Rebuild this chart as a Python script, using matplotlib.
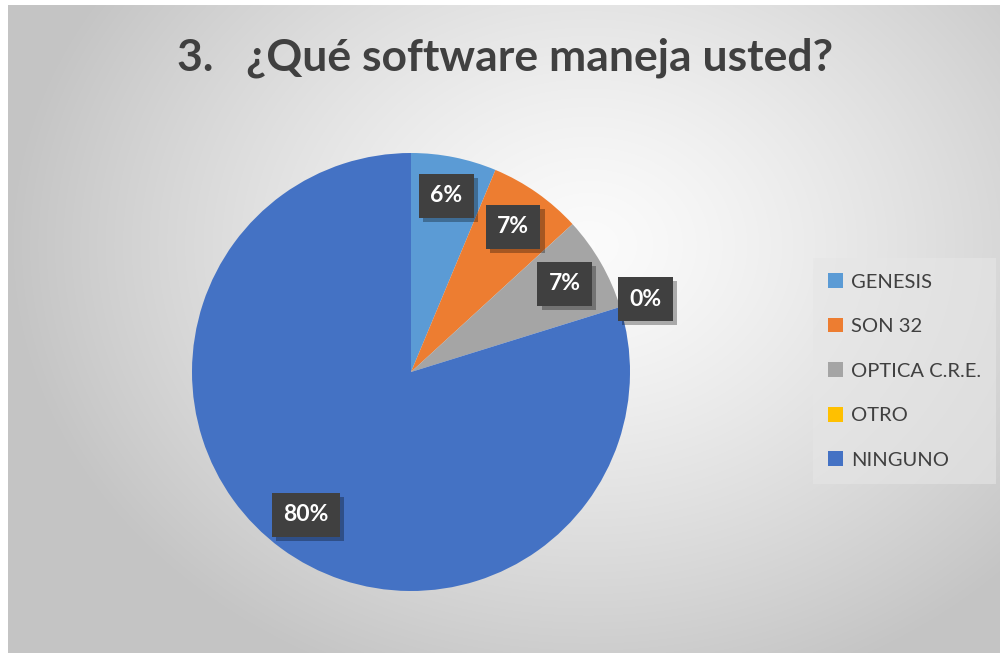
import numpy as np
import matplotlib
matplotlib.use("Agg")
import matplotlib.pyplot as plt
import matplotlib.patheffects as pe

# datos
categorias = ["GENESIS", "SON 32", "OPTICA C.R.E.", "OTRO", "NINGUNO"]
valores = [6.3, 6.9, 7.0, 0.0, 79.8]
etiquetas = ["6%", "7%", "7%", "0%", "80%"]
colores = ["#5B9BD5", "#ED7D31", "#A5A5A5", "#FFC000", "#4472C4"]
# distancia de cada etiqueta al centro (fracción del radio)
dist_etiqueta = [0.82, 0.81, 0.81, 1.12, 0.81]

plt.rcParams['font.family'] = ['Lato', 'DejaVu Sans']
plt.rcParams['hatch.color'] = "#555555"
plt.rcParams['hatch.linewidth'] = 1.2

W, H = 1000, 653
fig = plt.figure(figsize=(W / 100, H / 100), dpi=100)
fig.patch.set_facecolor("white")

# fondo con degradado radial (estilo Excel)
bg = fig.add_axes([8 / W, 0, (W - 8) / W, (H - 5) / H])
bg.set_axis_off()
yy, xx = np.mgrid[0:648, 0:992]
cx, cy = 580, 240
d = np.sqrt(((xx - cx) / 580.0) ** 2 + ((yy - cy) / 470.0) ** 2)
d = np.clip(d, 0, 1)
v = 0.985 - (0.985 - 0.77) * d ** 1.3
bg.imshow(np.dstack([v, v, v]), aspect="auto", extent=[0, 1, 0, 1], origin="upper")
bg.set_xlim(0, 1)
bg.set_ylim(0, 1)

fig.text(0.505, 1 - 58 / H, "3.   ¿Qué software maneja usted?", ha="center", va="center",
         fontsize=32, fontweight="bold", color="#404040")

# pastel
r = 219
ax = fig.add_axes([(411 - r) / W, (H - 372 - r) / H, 2 * r / W, 2 * r / H])
wedges, _ = ax.pie(valores, colors=colores, startangle=90, counterclock=False,
                   radius=1, wedgeprops=dict(linewidth=0))
ax.set_xlim(-1, 1)
ax.set_ylim(-1, 1)
ax.set_aspect("equal")
ax.set_axis_off()

for w, lab, dist in zip(wedges, etiquetas, dist_etiqueta):
    ang = np.deg2rad((w.theta1 + w.theta2) / 2)
    x, y = dist * np.cos(ang), dist * np.sin(ang)
    t = ax.text(x, y, lab, ha="center", va="center", fontsize=16.5, fontweight="bold",
                color="white", zorder=5,
                bbox=dict(boxstyle="square,pad=0.5", facecolor="#404040",
                          edgecolor="none", hatch="."))
    t.get_bbox_patch().set_path_effects([
        pe.SimplePatchShadow(offset=(3, -3), shadow_rgbFace="black", alpha=0.3),
        pe.Normal()])

# leyenda
handles = [plt.Rectangle((0, 0), 1, 1, facecolor=c, edgecolor="none") for c in colores]
leg = fig.legend(handles, categorias, loc="upper left",
                 bbox_to_anchor=(813 / W, 1 - 258 / H), frameon=True,
                 fontsize=14.5, labelcolor="#404040", handlelength=0.75,
                 handleheight=0.75, handletextpad=0.4, labelspacing=1.35,
                 borderpad=0.75, borderaxespad=0, fancybox=False)
leg.get_frame().set_facecolor("#e6e6e6")
leg.get_frame().set_alpha(0.6)
leg.get_frame().set_edgecolor("none")

fig.savefig("out.png", dpi=100)
